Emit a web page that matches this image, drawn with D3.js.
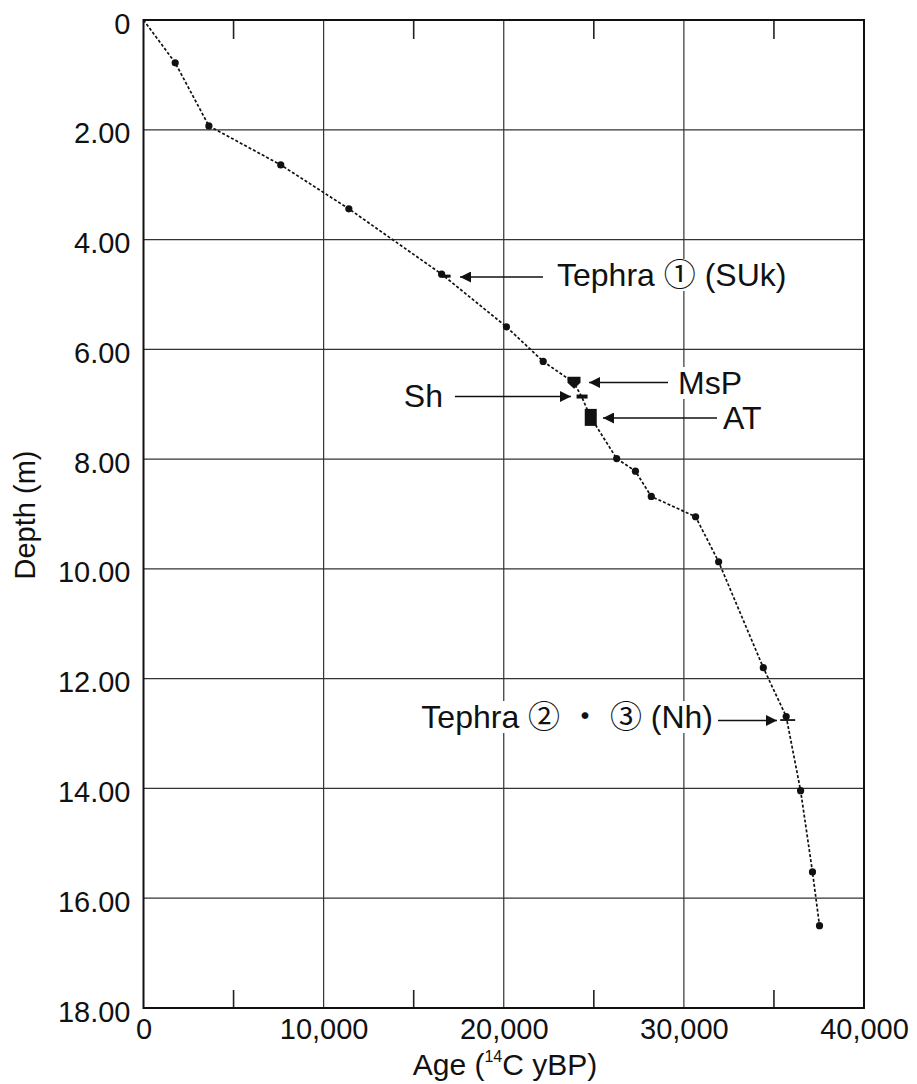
<!DOCTYPE html>
<html>
<head>
<meta charset="utf-8">
<script src="https://cdn.jsdelivr.net/npm/d3@7"></script>
<style>
  body { margin: 0; background: #fff; }
  text { font-family: "Liberation Sans", Arial, "Noto Sans CJK JP", sans-serif; fill: #111; }
</style>
</head>
<body>
<div id="chart"></div>
<script>
// age (14C yBP) and depth (m) of each dated level
var ages   = [0, 1760, 3630, 7620, 11400, 16550, 20150, 22190, 23900, 24320, 24830,
              26270, 27310, 28190, 30650, 31930, 34410, 35680, 36480, 37140, 37530];
var depths = [0, 0.78, 1.93, 2.64, 3.44, 4.63, 5.59, 6.22, 6.61, 6.86, 7.24,
              7.99, 8.22, 8.68, 9.05, 9.87, 11.80, 12.69, 14.04, 15.52, 16.50];
var marks  = ["none", "dot", "dot", "dot", "dot", "tephra", "dot", "dot", "msp", "sh", "at",
              "dot", "dot", "dot", "dot", "dot", "dot", "nh", "dot", "dot", "dot"];

var xTicks = [0, 10000, 20000, 30000, 40000];
var xMinor = [5000, 15000, 25000, 35000];
var yTicks = [0, 2, 4, 6, 8, 10, 12, 14, 16, 18];

// annotations: label, index of the point, side the label sits on
var noteLabels = ["Tephra \u2460 (SUk)", "MsP", "Sh", "AT", "Tephra \u2461 \u30FB \u2462 (Nh)"];
var noteIndex  = [5, 8, 9, 10, 17];
var noteSide   = ["right", "right", "left", "right", "left"];

var W = 917, H = 1084;
var x = d3.scaleLinear().domain([0, 40000]).range([143.5, 864]);
var y = d3.scaleLinear().domain([0, 18]).range([20, 1008]);

var svg = d3.select("#chart").append("svg")
    .attr("width", W).attr("height", H);

// grid
svg.append("g").selectAll("line.v")
    .data(xTicks.slice(1, -1)).enter().append("line")
    .attr("x1", d => x(d)).attr("x2", d => x(d))
    .attr("y1", y(0)).attr("y2", y(18))
    .attr("stroke", "#333").attr("stroke-width", 1.2);
svg.append("g").selectAll("line.h")
    .data(yTicks.slice(1, -1)).enter().append("line")
    .attr("x1", x(0)).attr("x2", x(40000))
    .attr("y1", d => y(d)).attr("y2", d => y(d))
    .attr("stroke", "#333").attr("stroke-width", 1.2);

// minor ticks, top and bottom, pointing inward
svg.append("g").selectAll("line")
    .data(xMinor).enter().append("line")
    .attr("x1", d => x(d)).attr("x2", d => x(d))
    .attr("y1", y(0)).attr("y2", y(0) + 19)
    .attr("stroke", "#222").attr("stroke-width", 1.6);
svg.append("g").selectAll("line")
    .data(xMinor).enter().append("line")
    .attr("x1", d => x(d)).attr("x2", d => x(d))
    .attr("y1", y(18)).attr("y2", y(18) - 18)
    .attr("stroke", "#222").attr("stroke-width", 1.6);

// frame
svg.append("rect")
    .attr("x", x(0)).attr("y", y(0))
    .attr("width", x(40000) - x(0)).attr("height", y(18) - y(0))
    .attr("fill", "none").attr("stroke", "#111").attr("stroke-width", 2);

// axes labels
var xAxis = d3.axisBottom(x).tickValues(xTicks).tickSize(0).tickPadding(10)
    .tickFormat(d => d === 0 ? "0" : d3.format(",")(d));
svg.append("g").attr("transform", "translate(0," + y(18) + ")")
    .call(xAxis)
    .call(g => g.select(".domain").remove())
    .selectAll("text").attr("font-size", 29).attr("fill", "#111")
    .style("font-family", "'Liberation Sans', Arial, sans-serif");

var yAxis = d3.axisLeft(y).tickValues(yTicks).tickSize(0).tickPadding(13)
    .tickFormat(d => d === 0 ? "0" : d3.format(".2f")(d));
svg.append("g").attr("transform", "translate(" + x(0) + ",0)")
    .call(yAxis)
    .call(g => g.select(".domain").remove())
    .selectAll("text").attr("font-size", 29).attr("fill", "#111").attr("dy", "0.45em")
    .style("font-family", "'Liberation Sans', Arial, sans-serif");

var xt = svg.append("text")
    .attr("x", 505).attr("y", 1075)
    .attr("text-anchor", "middle").attr("font-size", 30);
xt.append("tspan").text("Age (");
xt.append("tspan").text("14").attr("font-size", 16).attr("dy", -13);
xt.append("tspan").text("C yBP)").attr("dy", 13);

svg.append("text")
    .attr("transform", "translate(35,515) rotate(-90)")
    .attr("text-anchor", "middle").attr("font-size", 29)
    .text("Depth (m)");

// age-depth line
var pts = ages.map((a, i) => [a, depths[i]]);
svg.append("path")
    .datum(pts)
    .attr("d", d3.line().x(d => x(d[0])).y(d => y(d[1])))
    .attr("fill", "none").attr("stroke", "#111")
    .attr("stroke-width", 1.7).attr("stroke-dasharray", "3,2");

// markers
var mk = svg.append("g");
marks.forEach(function(m, i) {
    var cx = x(ages[i]), cy = y(depths[i]);
    if (m === "dot" || m === "tephra" || m === "nh") {
        mk.append("circle").attr("cx", cx).attr("cy", cy).attr("r", 3.6).attr("fill", "#111");
    }
    if (m === "tephra") {
        mk.append("line").attr("x1", cx).attr("x2", cx + 9)
            .attr("y1", cy + 2).attr("y2", cy + 2)
            .attr("stroke", "#111").attr("stroke-width", 3);
    }
    if (m === "nh") {
        mk.append("line").attr("x1", cx - 6).attr("x2", cx + 9)
            .attr("y1", cy + 3.5).attr("y2", cy + 3.5)
            .attr("stroke", "#111").attr("stroke-width", 1.8);
    }
    if (m === "msp") {
        mk.append("path")
            .attr("d", "M" + (cx - 6.5) + "," + (cy - 6) + " h13 v6 l-6.5,6 l-6.5,-6 z")
            .attr("fill", "#111");
    }
    if (m === "sh") {
        mk.append("rect").attr("x", cx - 5).attr("y", cy - 2)
            .attr("width", 11).attr("height", 4).attr("fill", "#111");
    }
    if (m === "at") {
        mk.append("rect").attr("x", cx - 6).attr("y", cy - 8.5)
            .attr("width", 12).attr("height", 17).attr("fill", "#111");
    }
});

// annotations: white box behind label, arrow to the point
var notePos = [
    {tx: 557, ty: 286, ax1: 543, ax2: 460, ay: 277},
    {tx: 678, ty: 394, ax1: 668, ax2: 589, ay: 382.5},
    {tx: 443, ty: 407, ax1: 455, ax2: 571, ay: 396.5},
    {tx: 723, ty: 429, ax1: 717, ax2: 603, ay: 418},
    {tx: 713, ty: 728, ax1: 718, ax2: 777, ay: 720.5}
];
svg.append("defs").append("marker")
    .attr("id", "arr").attr("viewBox", "0 0 10 10")
    .attr("refX", 10).attr("refY", 5)
    .attr("markerWidth", 15).attr("markerHeight", 11)
    .attr("markerUnits", "userSpaceOnUse").attr("orient", "auto")
    .append("path").attr("d", "M0,0 L10,5 L0,10 z").attr("fill", "#111");

var notes = svg.append("g");
noteLabels.forEach(function(lbl, i) {
    var p = notePos[i];
    var g = notes.append("g");
    var bg = g.append("rect").attr("fill", "#fff");
    var t = g.append("text")
        .attr("x", p.tx).attr("y", p.ty)
        .attr("text-anchor", noteSide[i] === "right" ? "start" : "end")
        .attr("font-size", 32).text(lbl);
    var b = t.node().getBBox();
    bg.attr("x", b.x - 2).attr("y", b.y + 2).attr("width", b.width + 4).attr("height", b.height - 4);
    g.append("line")
        .attr("x1", p.ax1).attr("x2", p.ax2)
        .attr("y1", p.ay).attr("y2", p.ay)
        .attr("stroke", "#111").attr("stroke-width", 1.7)
        .attr("marker-end", "url(#arr)");
});
</script>
</body>
</html>
